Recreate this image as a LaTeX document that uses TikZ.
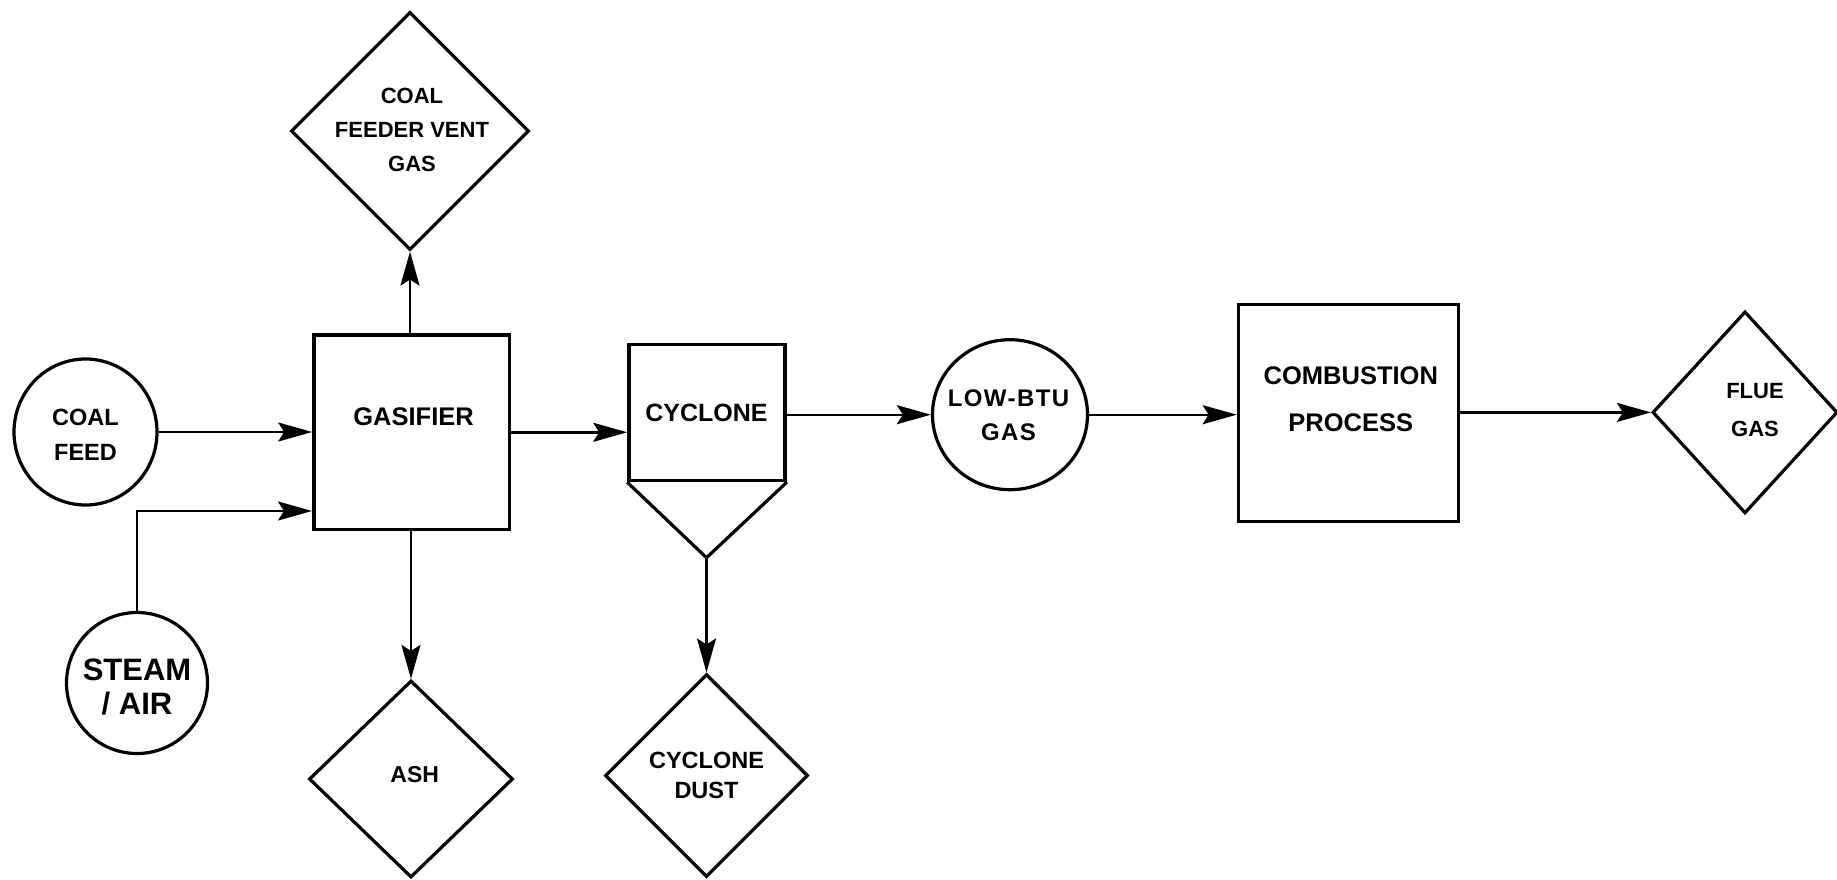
\documentclass[tikz,border=0pt]{standalone}
\usepackage{fontspec}
\setmainfont{Liberation Sans}
\usetikzlibrary{shapes.geometric,arrows.meta}
\newcommand{\fsz}[2]{\fontsize{#1}{#2}\selectfont\bfseries}
\begin{document}
\begin{tikzpicture}[x=1pt,y=-1pt,
  box/.style={draw, line width=3.6pt, rectangle, inner sep=0pt},
  circ/.style={draw, line width=3.2pt, ellipse, inner sep=0pt},
  dia/.style={draw, line width=3.2pt, diamond, inner sep=0pt},
  lbl/.style={font=\fsz{24}{34}, align=center, inner sep=0pt},
  flow/.style={line width=2.4pt, -{Stealth[length=34pt,width=19pt,inset=6pt]}}
]
\useasboundingbox (0,0) rectangle (1837,880);

% shapes
\node[circ, minimum width=143pt, minimum height=146pt] (coal) at (85.5,432) {};
\node[circ, minimum width=141pt, minimum height=141pt] (steam) at (137,683) {};
\node[box, minimum width=195.6pt, minimum height=194.5pt] (gas) at (411.8,432.3) {};
\node[dia, minimum width=238pt, minimum height=238pt] (vent) at (410,131) {};
\node[dia, minimum width=204pt, minimum height=197pt] (ash) at (411,779) {};
\node[box, minimum width=156pt, minimum height=136pt] (cyc) at (707,412.4) {};
\coordinate (apex) at (706.5,557.7);
\node[dia, minimum width=203pt, minimum height=203pt] (dust) at (706.5,775.6) {};
\node[circ, minimum width=155pt, minimum height=150pt] (low) at (1010,414.7) {};
\node[box, minimum width=220pt, minimum height=217pt] (comb) at (1348.5,413) {};
\node[dia, minimum width=185pt, minimum height=202pt] (flue) at (1745,412.4) {};

% cyclone funnel
\draw[line width=3.2pt, line join=miter] (cyc.south west) -- (apex) -- (cyc.south east);

% labels
\node[lbl, font=\fsz{23.5}{35}] (tcoal) at (85.5,434.7) {COAL\\FEED};
\node[lbl, font=\fsz{31}{34}] (tsteam) at (137,686.6) {STEAM\\/ AIR};
\node[lbl, font=\fsz{25.5}{34}] (tgas) at (413.6,417) {GASIFIER};
\node[lbl, font=\fsz{22}{34}] (tvent) at (412,130) {COAL\\FEEDER VENT\\GAS};
\node[lbl, font=\fsz{23}{34}] (tash) at (414.7,774.4) {ASH};
\node[lbl, font=\fsz{25}{34}] (tcyc) at (706.5,412.4) {CYCLONE};
\node[lbl, font=\fsz{23.5}{30.5}] (tdust) at (706.5,775.6) {CYCLONE\\DUST};
\node[lbl, font=\fsz{24}{34}\addfontfeatures{LetterSpace=6}] (tlow) at (1008.5,415.3) {LOW-BTU\\GAS};
\node[lbl, font=\fsz{25.5}{47}] (tcomb) at (1350.8,399.5) {COMBUSTION\\PROCESS};
\node[lbl, font=\fsz{22}{37.5}] (tflue) at (1755,410) {FLUE\\GAS};

% connectors
\coordinate (steamin) at (312,511);
\draw[flow] (coal.east) -- (coal.east -| gas.west);
\draw[flow] (steam.north) |- (steamin);
\draw[flow] (gas.north -| vent.south) -- (vent.south);
\draw[flow] (gas.south -| ash.north) -- (ash.north);
\draw[flow] (gas.east) -- (gas.east -| cyc.west);
\draw[flow] (apex) -- (dust.north);
\draw[flow] (cyc.east |- low.west) -- (low.west);
\draw[flow] (low.east) -- (low.east -| comb.west);
\draw[flow] (comb.east |- flue.west) -- (flue.west);
\end{tikzpicture}
\end{document}
